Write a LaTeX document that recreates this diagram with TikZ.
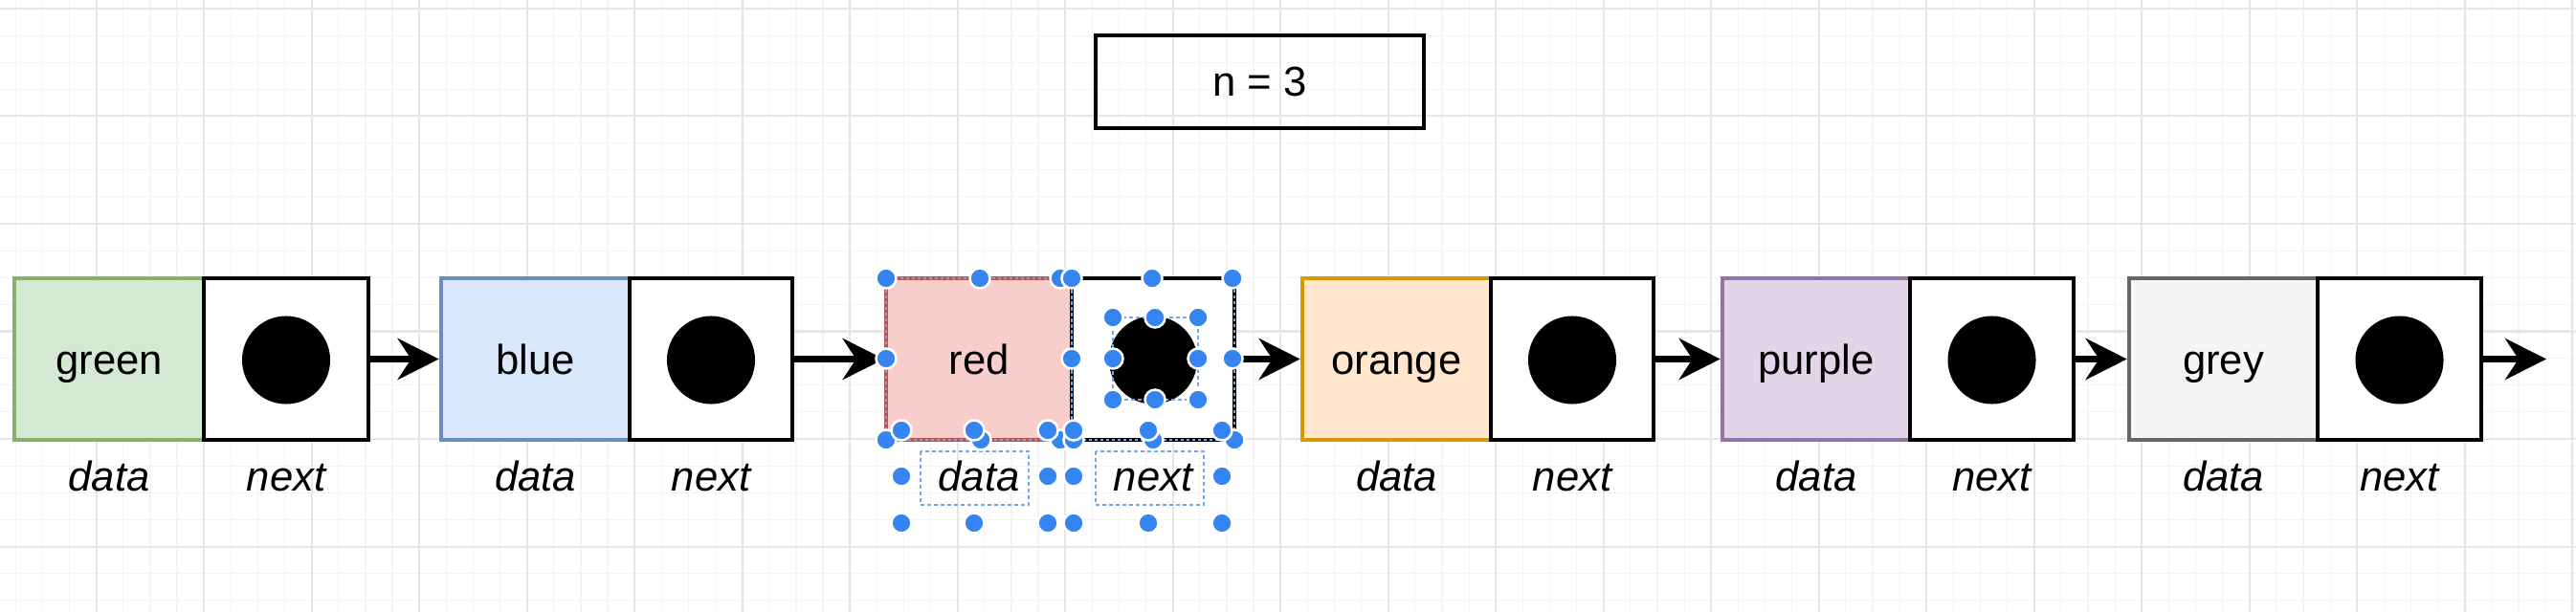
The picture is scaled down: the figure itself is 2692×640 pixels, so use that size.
\documentclass[tikz,border=0pt]{standalone}
\usepackage{fontspec}
\setmainfont{Liberation Sans}
\usetikzlibrary{arrows.meta}
\definecolor{Fgreen}{HTML}{D5E8D4}\definecolor{Sgreen}{HTML}{82B366}
\definecolor{Fblue}{HTML}{DAE8FC}\definecolor{Sblue}{HTML}{6C8EBF}
\definecolor{Fred}{HTML}{F8CECC}\definecolor{Sred}{HTML}{B85450}
\definecolor{Forange}{HTML}{FFE6CC}\definecolor{Sorange}{HTML}{D79B00}
\definecolor{Fpurple}{HTML}{E1D5E7}\definecolor{Spurple}{HTML}{9673A6}
\definecolor{Fgrey}{HTML}{F5F5F5}\definecolor{Sgrey}{HTML}{666666}
\definecolor{hblue}{HTML}{3584F0}
\definecolor{hsel}{HTML}{6FA8F0}
\definecolor{gminorc}{HTML}{F4F4F4}
\definecolor{gmajorc}{HTML}{E6E6E6}
\begin{document}
\begin{tikzpicture}[x=0.01cm,y=-0.01cm,
  datab/.style={rectangle, line width=0.45mm, minimum height=16.9mm, inner sep=0},
  nextb/.style={rectangle, draw=black, fill=white, line width=0.45mm, minimum height=16.9mm, inner sep=0},
  dot/.style={circle, fill=black, minimum size=9.2mm, inner sep=0},
  txt/.style={font=\fontsize{12.4}{14}\selectfont, inner sep=0},
  lbl/.style={font=\fontsize{12.4}{14}\selectfont\itshape, inner sep=0},
  link/.style={line width=0.7mm, -{Stealth[length=4.3mm,width=4.3mm,inset=1.4mm]}},
  gminor/.style={draw=gminorc, line width=0.12mm},
  gmajor/.style={draw=gmajorc, line width=0.2mm},
  handle/.style={fill=hblue, draw=white, line width=0.25mm},
  selbox/.style={draw=hsel, dash pattern=on 0.35mm off 0.35mm, line width=0.15mm},
  selline/.style={draw=hsel, dash pattern=on 0.3mm off 0.3mm, line width=0.18mm}]
\useasboundingbox (0,0) rectangle (2692,640);
\fill[white] (0,0) rectangle (2692,640);
% grid
\foreach \k in {0,...,96}{\pgfmathsetmacro\gx{-11.8+\k*28.125}\draw[gminor] (\gx,0) -- (\gx,640);}
\foreach \k in {0,...,22}{\pgfmathsetmacro\gy{9+\k*28.125}\draw[gminor] (0,\gy) -- (2692,\gy);}
\foreach \k in {0,...,24}{\pgfmathsetmacro\gx{-11.8+\k*112.5}\draw[gmajor] (\gx,0) -- (\gx,640);}
\foreach \k in {0,...,5}{\pgfmathsetmacro\gy{9+\k*112.5}\draw[gmajor] (0,\gy) -- (2692,\gy);}
% counter box
\node[draw, line width=0.45mm, minimum width=34.3mm, minimum height=9.7mm, inner sep=0, txt] (count) at (1316.5,85.5) {n = 3};
% list nodes
\foreach \i/\xa/\xb/\xc/\col in {1/15/213/385/green, 2/461/658/828/blue, 3/926/1120/1290/red, 4/1361/1558/1728/orange, 5/1800/1996/2167/purple, 6/2225/2422/2593/grey}{
  \pgfmathsetmacro\dw{(\xb-\xa)/10}
  \pgfmathsetmacro\nw{(\xc-\xb)/10}
  \pgfmathsetmacro\dx{(\xa+\xb)/2}
  \pgfmathsetmacro\nx{(\xb+\xc)/2}
  \node[datab, fill=F\col, draw=S\col, minimum width=\dw mm] (data\i) at (\dx,375.5) {};
  \node[txt, anchor=base] (val\i) at (\dx,391) {\col};
  \node[nextb, minimum width=\nw mm] (next\i) at (\nx,375.5) {};
  \node[dot] (ptr\i) at (\nx,376.5) {};
  \node[lbl, anchor=base] (dlab\i) at (\dx,513) {data};
  \node[lbl, anchor=base] (nlab\i) at (\nx,513) {next};
}
% links
\foreach \s/\t in {1/2, 2/3, 3/4, 4/5, 5/6}{\draw[link] (next\s.east) -- (data\t.west);}
\coordinate (end) at (2661,375.5);
\draw[link] (next6.east) -- (end);
% selection overlay on the red node
\draw[selline] (926,291) rectangle (1120,460);
\draw[selline] (1120,460) -- (1290,460) -- (1290,291);
\draw[selline] (1120,291) -- (1120,460);
\draw[selbox] (1163,332) rectangle (1252,418);
\draw[selbox] (962,472) rectangle (1075,528);
\draw[selbox] (1145,472) rectangle (1258,528);
\foreach \hx/\hy in {926/291, 1024/291, 1108/291, 1120/291, 1204/291, 1288/291,
                     926/375, 1120/375, 1288/375,
                     926/460, 1025/460, 1108/460, 1122/460, 1205/460, 1290/460}
  {\filldraw[handle] (\hx,\hy) circle (1.05mm);}
\foreach \hx/\hy in {1163/332, 1207/332, 1252/332, 1163/375, 1252/375, 1163/418, 1207/418, 1252/418}
  {\filldraw[handle] (\hx,\hy) circle (1.05mm);}
\foreach \hx/\hy in {942/450, 1018/450, 1095/450, 942/498, 1095/498, 942/547, 1018/547, 1095/547,
                     1122/450, 1200/450, 1277/450, 1122/498, 1277/498, 1122/547, 1200/547, 1277/547}
  {\filldraw[handle] (\hx,\hy) circle (1.05mm);}
\end{tikzpicture}
\end{document}
